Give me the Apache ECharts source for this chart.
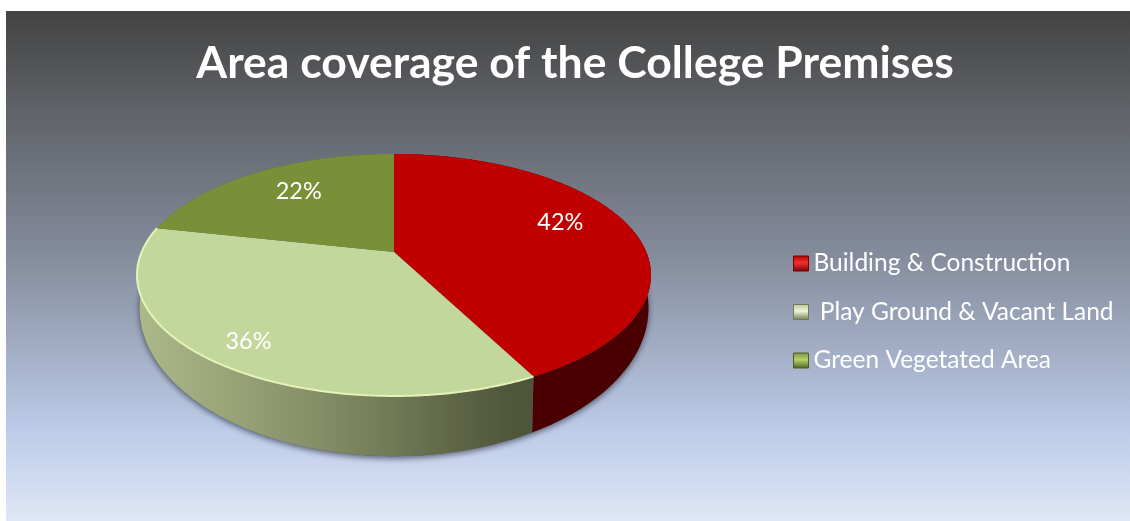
<!DOCTYPE html>
<html><head><meta charset="utf-8">
<style>html,body{margin:0;padding:0;background:#fff}#c{width:1130px;height:521px}</style>
<script src="https://cdn.jsdelivr.net/npm/echarts@6/dist/echarts.min.js"></script>
</head><body><div id="c"></div>
<script>
const titleText = 'Area coverage of the College Premises';
const categories = ['Building & Construction', ' Play Ground & Vacant Land', 'Green Vegetated Area'];
const shares = [42.4, 36.0, 21.6];

const topColors = ['#c00000', '#c3d69b', '#7a9038'];
const wallColors = [
  '#4a0000',
  {type:'linear',x:0,y:0,x2:1,y2:0,colorStops:[{offset:0,color:'#acb98a'},{offset:0.45,color:'#868f68'},{offset:0.95,color:'#4f5539'},{offset:1,color:'#4f5539'}]},
  '#5a6b2a'
];
const rimColors = [null, '#e4f3b8', null];
const legendColors = [['#f03030','#b80000','#7a0000'],['#eef5d8','#b8c795','#6f7a52'],['#b6d36a','#7a9038','#4c5e22']];
const labelRadius = [0.70, 0.83, 0.66];
const labelShiftY = [-11, 2, -6];

// projection of the pie disc: the top face and the lower rim of the wall
const CX = 394, K = 0.19;
const TOP = {y0:252, a:252.3, b:116.6};
const BASE = {y0:280, a:249.8, b:142.7};
function project(theta, r, p) {
  const X = Math.sin(theta) * r, Y = -Math.cos(theta) * r, w = 1 - K * Y;
  return [CX + p.a * X / w, p.y0 + p.b * Y / w];
}
function arc(a0, a1, p) {
  const pts = [], n = Math.max(8, Math.ceil((a1 - a0) / 0.01));
  for (let i = 0; i <= n; i++) pts.push(project(a0 + (a1 - a0) * i / n, 1, p));
  return pts;
}
const total = shares.reduce((a, b) => a + b, 0);
function angles(i) {
  let before = 0;
  for (let j = 0; j < i; j++) before += shares[j];
  return [before / total * 2 * Math.PI, (before + shares[i]) / total * 2 * Math.PI];
}
function makeRender(i) {
  return function (params, api) {
    const [a0, a1] = angles(i);
    const share = api.value(0);
    const children = [];
    if (i === 0) {
      children.push({type:'polygon', z2:0, shape:{points:arc(0, 2*Math.PI, BASE)},
        style:{fill:'#555c70', shadowBlur:6, shadowColor:'rgba(35,40,55,0.7)', shadowOffsetY:2}});
    }
    const topArc = arc(a0, a1, TOP);
    children.push({type:'polygon', z2:i + 1, shape:{points:topArc.concat(arc(a0, a1, BASE).reverse())},
      style:{fill:wallColors[i]}});
    children.push({type:'polygon', z2:10 + i, shape:{points:[[CX, TOP.y0]].concat(topArc)},
      style:{fill:topColors[i]}});
    if (rimColors[i]) {
      children.push({type:'polyline', z2:20, shape:{points:topArc},
        style:{fill:'none', stroke:rimColors[i], lineWidth:2}});
    }
    const mid = (a0 + a1) / 2, p = project(mid, labelRadius[i], TOP);
    children.push({type:'text', z2:30, x:p[0], y:p[1] + labelShiftY[i],
      style:{text:Math.round(share / total * 100) + '%', fill:'#fff', font:'23.5px Lato', align:'center', verticalAlign:'middle'}});
    return {type:'group', children};
  };
}
const chart = echarts.init(document.getElementById('c'), null, {renderer:'canvas'});
chart.setOption({
  animation:false,
  graphic:[{type:'rect', z:-10, silent:true, shape:{x:6, y:11, width:1124, height:510},
    style:{fill:{type:'linear',x:0,y:0,x2:0,y2:1,colorStops:[
      {offset:0,color:'#434343'},{offset:0.2,color:'#606368'},{offset:0.47,color:'#838a9a'},
      {offset:0.82,color:'#bccbe8'},{offset:1,color:'#dee7f6'}]}}}],
  title:{text:titleText, left:570, top:36, textAlign:'center',
    textStyle:{color:'#fff', fontFamily:'Lato', fontWeight:'bold', fontSize:44.5}},
  legend:{orient:'vertical', left:788, top:246, itemWidth:15, itemHeight:15, itemGap:23.5, selectedMode:false,
    textStyle:{color:'#fff', fontFamily:'Lato', fontSize:24.5, lineHeight:24},
    data:categories.map((name, i) => ({name, icon:'rect',
      itemStyle:{borderColor:legendColors[i][2], borderWidth:1,
        color:{type:'linear',x:0,y:0,x2:0,y2:1,colorStops:[{offset:0,color:legendColors[i][1]},{offset:0.45,color:legendColors[i][0]},{offset:1,color:legendColors[i][2]}]}}}))},
  series:categories.map((name, i) => ({
    type:'custom', name, coordinateSystem:'none', silent:true,
    itemStyle:{color:topColors[i]},
    renderItem:makeRender(i), data:[[shares[i]]]
  }))
});
</script></body></html>
